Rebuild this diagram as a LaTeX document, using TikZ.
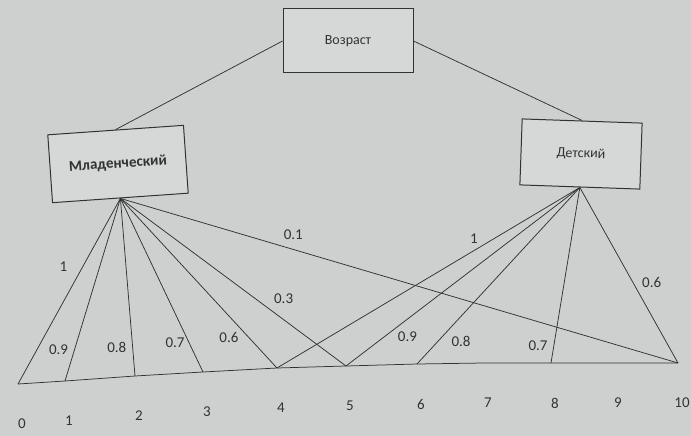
\documentclass[tikz,border=0pt]{standalone}
\usepackage{fontspec}
\setmainfont{Carlito}
\usetikzlibrary{positioning}
\definecolor{paper}{RGB}{206,208,208}
\definecolor{boxfill}{RGB}{214,216,216}
\definecolor{ink}{RGB}{50,50,52}

\tikzset{
  block/.style={draw, rectangle, fill=boxfill, line width=1pt, inner sep=2pt},
  val/.style={font=\fontsize{15}{17}\selectfont, inner sep=1pt}
}

\begin{document}
\begin{tikzpicture}[x=1pt,y=-1pt,color=ink,line width=0.75pt]
\useasboundingbox (0,0) rectangle (691,436);
\fill[paper] (0,0) rectangle (691,436);

% nodes of the tree
\node[block, minimum width=130pt, minimum height=64pt, font=\fontsize{14}{16}\selectfont] (age) at (348,41) {Возраст};
\node[block, minimum width=136pt, minimum height=68pt, rotate=4, font=\bfseries\fontsize{15}{17}\selectfont] (infant) at (118,164) {Младенческий};
\node[block, minimum width=120pt, minimum height=66pt, rotate=-2, font=\fontsize{14}{16}\selectfont] (child) at (581,154) {Детский};

\path (age.west) edge (infant.north)
      (age.east) edge (child.north);

% axis points
\foreach \i/\x/\y in {0/18/384, 1/65/381, 2/135/376, 3/203/372, 4/277/368, 5/346/366,
                      6/417/364, 7/484/363, 8/551/363, 9/614/363, 10/678/363} {
  \coordinate (x\i) at (\x,\y);
  \node[val] (n\i) at (\x+4,\y+40) {\i};
}
\draw (x0) -- (x1) -- (x2) -- (x3) -- (x4) -- (x5) -- (x6) -- (x7) -- (x8) -- (x9) -- (x10);

% memberships, Младенческий
\path (infant.south)
  edge node[val, pos=.37, left=14pt] {1} (x0)
  edge node[val, pos=.83, left=5pt] {0.9} (x1)
  edge node[val, pos=.84, left=5pt] {0.8} (x2)
  edge node[val, pos=.83, left=3pt] {0.7} (x3)
  edge node[val, pos=.82, left=9pt] {0.6} (x4)
  edge node[val, pos=.60, right=17pt] {0.3} (x5)
  edge node[val, pos=.31, above=8pt] {0.1} (x10);

% memberships, Детский
\path (child.south)
  edge node[val, pos=.35, above=6pt] {1} (x4)
  edge node[val, pos=.835, right=12pt] {0.9} (x5)
  edge node[val, pos=.87, right=12pt] {0.8} (x6)
  edge node[val, pos=.90, left=5pt] {0.7} (x8)
  edge node[val, pos=.54, right=8pt] {0.6} (x10);
\end{tikzpicture}
\end{document}
